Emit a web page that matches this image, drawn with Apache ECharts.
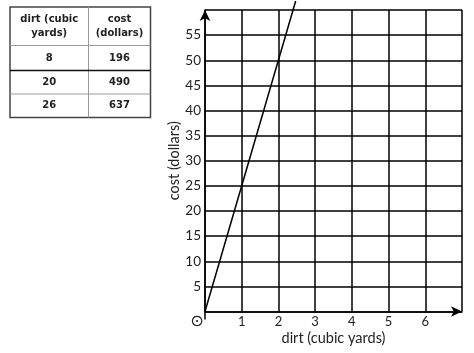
<!DOCTYPE html>
<html>
<head>
<meta charset="utf-8">
<script src="https://cdn.jsdelivr.net/npm/echarts@6/dist/echarts.min.js"></script>
<style>html,body{margin:0;padding:0;background:#fff}#c{width:474px;height:353px}</style>
</head>
<body>
<div id="c"></div>
<script>
// Table values
var tableHeaders = [['dirt (cubic', 'yards)'], ['cost', '(dollars)']];
var tableDirt = [8, 20, 26];
var tableCost = [196, 490, 637];
// Graph line
var lineX = [0, 2.47];
var lineY = [0, 61.8];
// Axes
var xTicks = [0, 1, 2, 3, 4, 5, 6, 7];
var yTicks = [0, 5, 10, 15, 20, 25, 30, 35, 40, 45, 50, 55, 60];
var xTitle = 'dirt (cubic yards)';
var yTitle = 'cost (dollars)';

var chart = echarts.init(document.getElementById('c'));
var labelFont = 'Lato, "Open Sans", sans-serif';
var lineData = lineX.map(function (x, i) { return [x, lineY[i]]; });

var option = {
  animation: false,
  backgroundColor: '#fff',
  grid: { left: 205, right: 12, top: 10, bottom: 41.5 },
  xAxis: {
    type: 'value', min: 0, max: 7, interval: 1,
    axisLine: { show: true, onZero: false, symbol: ['none', 'arrow'], symbolSize: [8, 11], lineStyle: { color: '#000', width: 1.5 } },
    axisTick: { show: false },
    splitLine: { show: true, lineStyle: { color: '#000', width: 1.5 } },
    axisLabel: { color: '#222', fontSize: 13, fontFamily: labelFont, margin: 4,
      formatter: function (v) { return (v === 0 || v === 7) ? '' : String(v); } },
    name: xTitle, nameLocation: 'middle', nameGap: 19, nameMoveOverlap: false,
    nameTextStyle: { color: '#222', fontSize: 14.5, fontFamily: labelFont }
  },
  yAxis: {
    type: 'value', min: 0, max: 60, interval: 5,
    axisLine: { show: true, onZero: false, symbol: ['none', 'arrow'], symbolSize: [8, 11], lineStyle: { color: '#000', width: 1.5 } },
    axisTick: { show: false },
    splitLine: { show: true, lineStyle: { color: '#000', width: 1.5 } },
    axisLabel: { color: '#222', fontSize: 13.5, fontFamily: labelFont, margin: 4,
      formatter: function (v) { return (v === 0 || v === 60) ? '' : String(v); } },
    name: yTitle, nameLocation: 'middle', nameGap: 23, nameMoveOverlap: false,
    nameTextStyle: { color: '#222', fontSize: 14.5, fontFamily: labelFont }
  },
  series: [{
    type: 'line', data: lineData, symbol: 'none', clip: false,
    lineStyle: { color: '#000', width: 1.5 }
  }]
};
chart.setOption(option);

// Table as graphic elements
var tl = 10, tr = 150.5, tt = 7, colSplit = 88.5;
var rowEdges = [7, 45.5, 70.5, 94, 117.5];
var g = [];
g.push({ type: 'rect', shape: { x: tl, y: tt, width: tr - tl, height: rowEdges[4] - tt },
  style: { fill: '#fff', stroke: '#444', lineWidth: 1.5 }, z: 10 });
g.push({ type: 'line', shape: { x1: colSplit, y1: tt, x2: colSplit, y2: rowEdges[4] },
  style: { stroke: '#999', lineWidth: 1 }, z: 11 });
[1, 2, 3].forEach(function (i) {
  g.push({ type: 'line', shape: { x1: tl, y1: rowEdges[i], x2: tr, y2: rowEdges[i] },
    style: { stroke: i === 2 ? '#111' : '#999', lineWidth: i === 2 ? 1.3 : 1 }, z: 11 });
});
var cx = [(tl + colSplit) / 2, (colSplit + tr) / 2];
var tFont = 'bold 10px "DejaVu Sans", Verdana, sans-serif';
tableHeaders.forEach(function (h, c) {
  g.push({ type: 'text', z: 12, style: { text: h.join('\n'), x: cx[c], y: (rowEdges[0] + rowEdges[1]) / 2,
    textAlign: 'center', textVerticalAlign: 'middle', font: tFont, fill: '#222', lineHeight: 14 } });
});
var tFont2 = 'bold 10px "DejaVu Sans", Verdana, sans-serif';
tableDirt.forEach(function (d, r) {
  var yc = (rowEdges[r + 1] + rowEdges[r + 2]) / 2;
  g.push({ type: 'text', z: 12, style: { text: String(d), x: cx[0], y: yc, textAlign: 'center', textVerticalAlign: 'middle', font: tFont2, fill: '#222' } });
  g.push({ type: 'text', z: 12, style: { text: String(tableCost[r]), x: cx[1], y: yc, textAlign: 'center', textVerticalAlign: 'middle', font: tFont2, fill: '#222' } });
});

// y-axis extension below origin, and origin glyph
var o = chart.convertToPixel({ gridIndex: 0 }, [0, 0]);
g.push({ type: 'line', shape: { x1: o[0], y1: o[1], x2: o[0], y2: o[1] + 8 }, style: { stroke: '#000', lineWidth: 1.5 }, z: 5 });
g.push({ type: 'text', z: 5, style: { text: '\u2299', x: o[0] - 8, y: o[1] + 10, textAlign: 'center', textVerticalAlign: 'middle',
  font: '16px "DejaVu Sans", sans-serif', fill: '#222' } });

chart.setOption({ graphic: g });
</script>
</body>
</html>
